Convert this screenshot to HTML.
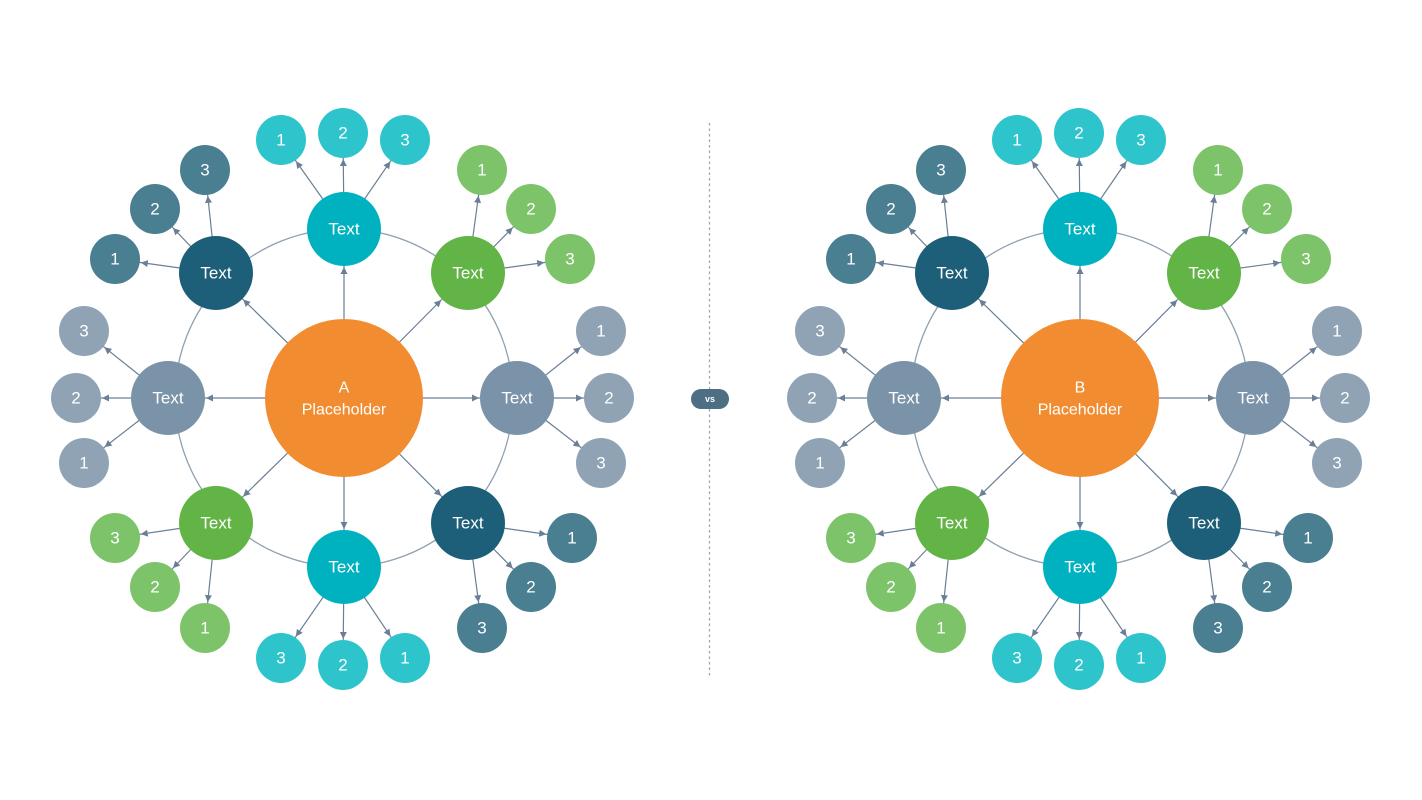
<!DOCTYPE html>
<html><head><meta charset="utf-8"><style>
html,body{margin:0;padding:0;background:#fff}
svg{display:block}
text{font-family:"Liberation Sans",sans-serif;fill:#fff;text-anchor:middle;dominant-baseline:central}
.n{font-size:17px}.l{font-size:17px}
.c{font-size:16px}
</style></head><body>
<svg width="1422" height="800" viewBox="0 0 1422 800" xmlns="http://www.w3.org/2000/svg">
<defs>
<marker id="a1" markerUnits="userSpaceOnUse" markerWidth="60" markerHeight="10" viewBox="-8 -4 60 8" refX="26" refY="0" orient="auto"><path d="M0,0 L-7,-3.5 L-7,3.5 Z" fill="#6a7f96"/></marker>
<marker id="a2" markerUnits="userSpaceOnUse" markerWidth="60" markerHeight="10" viewBox="-8 -4 60 8" refX="38" refY="0" orient="auto"><path d="M0,0 L-7,-3.5 L-7,3.5 Z" fill="#6a7f96"/></marker>
</defs>

<g id="L">
<circle cx="344" cy="398" r="169" fill="none" stroke="#8fa0b3" stroke-width="1.3"/>
<g stroke="#6a7f96" stroke-width="1.2" marker-end="url(#a2)">
<line x1="344" y1="398" x2="344" y2="229"/><line x1="344" y1="398" x2="468" y2="273"/>
<line x1="344" y1="398" x2="517" y2="398"/><line x1="344" y1="398" x2="468" y2="523"/>
<line x1="344" y1="398" x2="344" y2="567"/><line x1="344" y1="398" x2="216" y2="523"/>
<line x1="344" y1="398" x2="168" y2="398"/><line x1="344" y1="398" x2="216" y2="273"/>
</g>
<g stroke="#6a7f96" stroke-width="1.2" marker-end="url(#a1)">
<line x1="344" y1="229" x2="281" y2="140"/><line x1="344" y1="229" x2="343" y2="133"/><line x1="344" y1="229" x2="405" y2="140"/>
<line x1="468" y1="273" x2="482" y2="170"/><line x1="468" y1="273" x2="531" y2="209"/><line x1="468" y1="273" x2="570" y2="259"/>
<line x1="517" y1="398" x2="601" y2="331"/><line x1="517" y1="398" x2="609" y2="398"/><line x1="517" y1="398" x2="601" y2="463"/>
<line x1="468" y1="523" x2="572" y2="538"/><line x1="468" y1="523" x2="531" y2="587"/><line x1="468" y1="523" x2="482" y2="628"/>
<line x1="344" y1="567" x2="281" y2="658"/><line x1="344" y1="567" x2="343" y2="665"/><line x1="344" y1="567" x2="405" y2="658"/>
<line x1="216" y1="523" x2="115" y2="538"/><line x1="216" y1="523" x2="155" y2="587"/><line x1="216" y1="523" x2="205" y2="628"/>
<line x1="168" y1="398" x2="84" y2="331"/><line x1="168" y1="398" x2="76" y2="398"/><line x1="168" y1="398" x2="84" y2="463"/>
<line x1="216" y1="273" x2="115" y2="259"/><line x1="216" y1="273" x2="155" y2="209"/><line x1="216" y1="273" x2="205" y2="170"/>
</g>
<circle cx="344" cy="398" r="79" fill="#f28c30"/>
<text class="c" x="344" y="388">A</text><text class="c" x="344" y="410">Placeholder</text>
<g fill="#00b2bf"><circle cx="344" cy="229" r="37"/><circle cx="344" cy="567" r="37"/></g>
<g fill="#62b446"><circle cx="468" cy="273" r="37"/><circle cx="216" cy="523" r="37"/></g>
<g fill="#7a93a8"><circle cx="517" cy="398" r="37"/><circle cx="168" cy="398" r="37"/></g>
<g fill="#1d5f78"><circle cx="468" cy="523" r="37"/><circle cx="216" cy="273" r="37"/></g>
<g class="n"><text x="344" y="229">Text</text><text x="468" y="273">Text</text><text x="517" y="398">Text</text><text x="468" y="523">Text</text><text x="344" y="567">Text</text><text x="216" y="523">Text</text><text x="168" y="398">Text</text><text x="216" y="273">Text</text></g>
<g fill="#2ec4cc"><circle cx="281" cy="140" r="25"/><circle cx="343" cy="133" r="25"/><circle cx="405" cy="140" r="25"/><circle cx="281" cy="658" r="25"/><circle cx="343" cy="665" r="25"/><circle cx="405" cy="658" r="25"/></g>
<g fill="#7dc36a"><circle cx="482" cy="170" r="25"/><circle cx="531" cy="209" r="25"/><circle cx="570" cy="259" r="25"/><circle cx="115" cy="538" r="25"/><circle cx="155" cy="587" r="25"/><circle cx="205" cy="628" r="25"/></g>
<g fill="#8fa3b5"><circle cx="601" cy="331" r="25"/><circle cx="609" cy="398" r="25"/><circle cx="601" cy="463" r="25"/><circle cx="84" cy="331" r="25"/><circle cx="76" cy="398" r="25"/><circle cx="84" cy="463" r="25"/></g>
<g fill="#4a7f92"><circle cx="572" cy="538" r="25"/><circle cx="531" cy="587" r="25"/><circle cx="482" cy="628" r="25"/><circle cx="115" cy="259" r="25"/><circle cx="155" cy="209" r="25"/><circle cx="205" cy="170" r="25"/></g>
<g class="l">
<text x="281" y="140">1</text><text x="343" y="133">2</text><text x="405" y="140">3</text>
<text x="482" y="170">1</text><text x="531" y="209">2</text><text x="570" y="259">3</text>
<text x="601" y="331">1</text><text x="609" y="398">2</text><text x="601" y="463">3</text>
<text x="572" y="538">1</text><text x="531" y="587">2</text><text x="482" y="628">3</text>
<text x="281" y="658">3</text><text x="343" y="665">2</text><text x="405" y="658">1</text>
<text x="115" y="538">3</text><text x="155" y="587">2</text><text x="205" y="628">1</text>
<text x="84" y="331">3</text><text x="76" y="398">2</text><text x="84" y="463">1</text>
<text x="115" y="259">1</text><text x="155" y="209">2</text><text x="205" y="170">3</text>
</g>
</g>

<g transform="translate(736,0)">
<circle cx="344" cy="398" r="169" fill="none" stroke="#8fa0b3" stroke-width="1.3"/>
<g stroke="#6a7f96" stroke-width="1.2" marker-end="url(#a2)">
<line x1="344" y1="398" x2="344" y2="229"/><line x1="344" y1="398" x2="468" y2="273"/>
<line x1="344" y1="398" x2="517" y2="398"/><line x1="344" y1="398" x2="468" y2="523"/>
<line x1="344" y1="398" x2="344" y2="567"/><line x1="344" y1="398" x2="216" y2="523"/>
<line x1="344" y1="398" x2="168" y2="398"/><line x1="344" y1="398" x2="216" y2="273"/>
</g>
<g stroke="#6a7f96" stroke-width="1.2" marker-end="url(#a1)">
<line x1="344" y1="229" x2="281" y2="140"/><line x1="344" y1="229" x2="343" y2="133"/><line x1="344" y1="229" x2="405" y2="140"/>
<line x1="468" y1="273" x2="482" y2="170"/><line x1="468" y1="273" x2="531" y2="209"/><line x1="468" y1="273" x2="570" y2="259"/>
<line x1="517" y1="398" x2="601" y2="331"/><line x1="517" y1="398" x2="609" y2="398"/><line x1="517" y1="398" x2="601" y2="463"/>
<line x1="468" y1="523" x2="572" y2="538"/><line x1="468" y1="523" x2="531" y2="587"/><line x1="468" y1="523" x2="482" y2="628"/>
<line x1="344" y1="567" x2="281" y2="658"/><line x1="344" y1="567" x2="343" y2="665"/><line x1="344" y1="567" x2="405" y2="658"/>
<line x1="216" y1="523" x2="115" y2="538"/><line x1="216" y1="523" x2="155" y2="587"/><line x1="216" y1="523" x2="205" y2="628"/>
<line x1="168" y1="398" x2="84" y2="331"/><line x1="168" y1="398" x2="76" y2="398"/><line x1="168" y1="398" x2="84" y2="463"/>
<line x1="216" y1="273" x2="115" y2="259"/><line x1="216" y1="273" x2="155" y2="209"/><line x1="216" y1="273" x2="205" y2="170"/>
</g>
<circle cx="344" cy="398" r="79" fill="#f28c30"/>
<text class="c" x="344" y="388">B</text><text class="c" x="344" y="410">Placeholder</text>
<g fill="#00b2bf"><circle cx="344" cy="229" r="37"/><circle cx="344" cy="567" r="37"/></g>
<g fill="#62b446"><circle cx="468" cy="273" r="37"/><circle cx="216" cy="523" r="37"/></g>
<g fill="#7a93a8"><circle cx="517" cy="398" r="37"/><circle cx="168" cy="398" r="37"/></g>
<g fill="#1d5f78"><circle cx="468" cy="523" r="37"/><circle cx="216" cy="273" r="37"/></g>
<g class="n"><text x="344" y="229">Text</text><text x="468" y="273">Text</text><text x="517" y="398">Text</text><text x="468" y="523">Text</text><text x="344" y="567">Text</text><text x="216" y="523">Text</text><text x="168" y="398">Text</text><text x="216" y="273">Text</text></g>
<g fill="#2ec4cc"><circle cx="281" cy="140" r="25"/><circle cx="343" cy="133" r="25"/><circle cx="405" cy="140" r="25"/><circle cx="281" cy="658" r="25"/><circle cx="343" cy="665" r="25"/><circle cx="405" cy="658" r="25"/></g>
<g fill="#7dc36a"><circle cx="482" cy="170" r="25"/><circle cx="531" cy="209" r="25"/><circle cx="570" cy="259" r="25"/><circle cx="115" cy="538" r="25"/><circle cx="155" cy="587" r="25"/><circle cx="205" cy="628" r="25"/></g>
<g fill="#8fa3b5"><circle cx="601" cy="331" r="25"/><circle cx="609" cy="398" r="25"/><circle cx="601" cy="463" r="25"/><circle cx="84" cy="331" r="25"/><circle cx="76" cy="398" r="25"/><circle cx="84" cy="463" r="25"/></g>
<g fill="#4a7f92"><circle cx="572" cy="538" r="25"/><circle cx="531" cy="587" r="25"/><circle cx="482" cy="628" r="25"/><circle cx="115" cy="259" r="25"/><circle cx="155" cy="209" r="25"/><circle cx="205" cy="170" r="25"/></g>
<g class="l">
<text x="281" y="140">1</text><text x="343" y="133">2</text><text x="405" y="140">3</text>
<text x="482" y="170">1</text><text x="531" y="209">2</text><text x="570" y="259">3</text>
<text x="601" y="331">1</text><text x="609" y="398">2</text><text x="601" y="463">3</text>
<text x="572" y="538">1</text><text x="531" y="587">2</text><text x="482" y="628">3</text>
<text x="281" y="658">3</text><text x="343" y="665">2</text><text x="405" y="658">1</text>
<text x="115" y="538">3</text><text x="155" y="587">2</text><text x="205" y="628">1</text>
<text x="84" y="331">3</text><text x="76" y="398">2</text><text x="84" y="463">1</text>
<text x="115" y="259">1</text><text x="155" y="209">2</text><text x="205" y="170">3</text>
</g>
</g>

<line x1="709.5" y1="123" x2="709.5" y2="677" stroke="#9aa6b2" stroke-width="1.3" stroke-dasharray="2.5,3"/>
<rect x="691" y="389" width="38" height="20" rx="10" fill="#4e6e84"/>
<text x="710" y="399" style="font-size:9px;font-weight:bold">vs</text>
</svg>
</body></html>
